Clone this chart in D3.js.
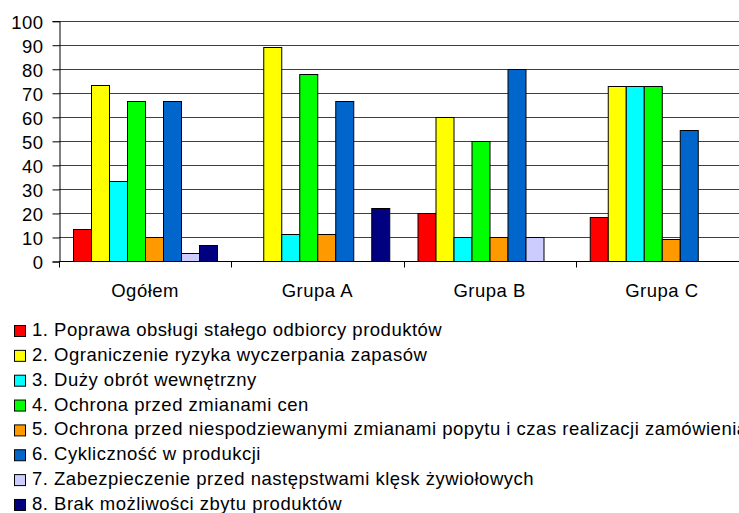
<!DOCTYPE html>
<html>
<head>
<meta charset="utf-8">
<style>
  body { margin: 0; background: #fff; }
  svg text { font-family: "Liberation Sans", Arial, sans-serif; font-size: 18.5px; letter-spacing: 0.5px; fill: #000; }
</style>
</head>
<body>
<div id="chart"></div>
<script src="https://cdn.jsdelivr.net/npm/d3@7/dist/d3.min.js"></script>
<script>
// categories on the x axis
var groups = ["Ogółem", "Grupa A", "Grupa B", "Grupa C"];

// series (legend entries) and their colours
var series = [
  "1. Poprawa obsługi stałego odbiorcy produktów",
  "2. Ograniczenie ryzyka wyczerpania zapasów",
  "3. Duży obrót wewnętrzny",
  "4. Ochrona przed zmianami cen",
  "5. Ochrona przed niespodziewanymi zmianami popytu i czas realizacji zamówienia",
  "6. Cykliczność w produkcji",
  "7. Zabezpieczenie przed następstwami klęsk żywiołowych",
  "8. Brak możliwości zbytu produktów"
];
var colors = ["#ff0000", "#ffff00", "#00ffff", "#00ff00", "#ff9900", "#0066cc", "#ccccff", "#000080"];

// values per group, one per series (%)
var ogolem = [13.3, 73.3, 33.3, 66.7, 10.0, 66.7, 3.3, 6.7];
var grupaA = [0, 88.9, 11.1, 77.8, 11.1, 66.7, 0, 22.2];
var grupaB = [20.0, 60.0, 10.0, 50.0, 10.0, 80.0, 10.0, 0];
var grupaC = [18.2, 72.7, 72.7, 72.7, 9.1, 54.5, 0, 0];
var values = [ogolem, grupaA, grupaB, grupaC];

var yTicks = [0, 10, 20, 30, 40, 50, 60, 70, 80, 90, 100];

var width = 739, height = 513;
var plot = {left: 59, right: 748, top: 20.7, bottom: 261};

var svg = d3.select("#chart").append("svg")
    .attr("width", width)
    .attr("height", height);

var x0 = d3.scaleBand()
    .domain(groups)
    .range([plot.left, plot.right]);

var gap = x0.bandwidth() * 0.081;
var x1 = d3.scaleBand()
    .domain(d3.range(series.length))
    .range([gap, x0.bandwidth() - gap]);

var y = d3.scaleLinear()
    .domain([0, 100])
    .range([plot.bottom, plot.top]);

// horizontal gridlines
svg.append("g")
    .selectAll("line")
    .data(yTicks)
    .join("line")
    .attr("x1", plot.left)
    .attr("x2", plot.right)
    .attr("y1", function(d) { return Math.round(y(d)) + 0.5; })
    .attr("y2", function(d) { return Math.round(y(d)) + 0.5; })
    .attr("stroke", "#404040")
    .attr("stroke-width", 1);

// bars
var bars = svg.append("g")
    .selectAll("g")
    .data(values)
    .join("g")
    .attr("transform", function(d, i) { return "translate(" + x0(groups[i]) + ",0)"; });

bars.selectAll("rect")
    .data(function(d) { return d.map(function(v, j) { return {v: v, j: j}; }).filter(function(e) { return e.v > 0; }); })
    .join("rect")
    .attr("x", function(d) { return Math.round(x1(d.j)) + 0.5; })
    .attr("width", Math.round(x1.bandwidth()))
    .attr("y", function(d) { return Math.round(y(d.v)) + 0.5; })
    .attr("height", function(d) { return Math.round(y(0)) - Math.round(y(d.v)); })
    .attr("fill", function(d) { return colors[d.j]; })
    .attr("stroke", "#000")
    .attr("stroke-width", 1);

// y axis
var yAxis = d3.axisLeft(y).tickValues(yTicks).tickSize(7).tickPadding(9);
var ya = svg.append("g")
    .attr("transform", "translate(" + (plot.left + 0.5) + ",0.5)")
    .call(yAxis);
ya.attr("font-family", null).attr("font-size", null);
ya.select(".domain").attr("stroke", "#000");
ya.selectAll(".tick line").attr("stroke", "#000");
ya.selectAll("text").attr("dy", "0.4em");

// x axis with ticks at category boundaries
var xa = svg.append("g")
    .attr("transform", "translate(0," + (Math.round(y(0)) + 0.5) + ")");
xa.append("line")
    .attr("x1", plot.left).attr("x2", plot.right)
    .attr("stroke", "#000");
xa.selectAll(".bound")
    .data(groups.concat([null]))
    .join("line")
    .attr("class", "bound")
    .attr("x1", function(d, i) { return Math.round(plot.left + i * x0.step()) + 0.5; })
    .attr("x2", function(d, i) { return Math.round(plot.left + i * x0.step()) + 0.5; })
    .attr("y1", 0).attr("y2", 6)
    .attr("stroke", "#000");
xa.selectAll("text")
    .data(groups)
    .join("text")
    .attr("x", function(d) { return x0(d) + x0.bandwidth() / 2; })
    .attr("y", 35)
    .attr("text-anchor", "middle")
    .text(function(d) { return d; });

// legend
var legend = svg.append("g")
    .selectAll("g")
    .data(series)
    .join("g")
    .attr("transform", function(d, i) { return "translate(14," + (325 + i * 24.85) + ")"; });

legend.append("rect")
    .attr("x", 0.5).attr("y", 0.5)
    .attr("width", 11).attr("height", 11)
    .attr("fill", function(d, i) { return colors[i]; })
    .attr("stroke", "#000");

legend.append("text")
    .attr("x", 18)
    .attr("y", 11)
    .text(function(d) { return d; });
</script>
</body>
</html>
